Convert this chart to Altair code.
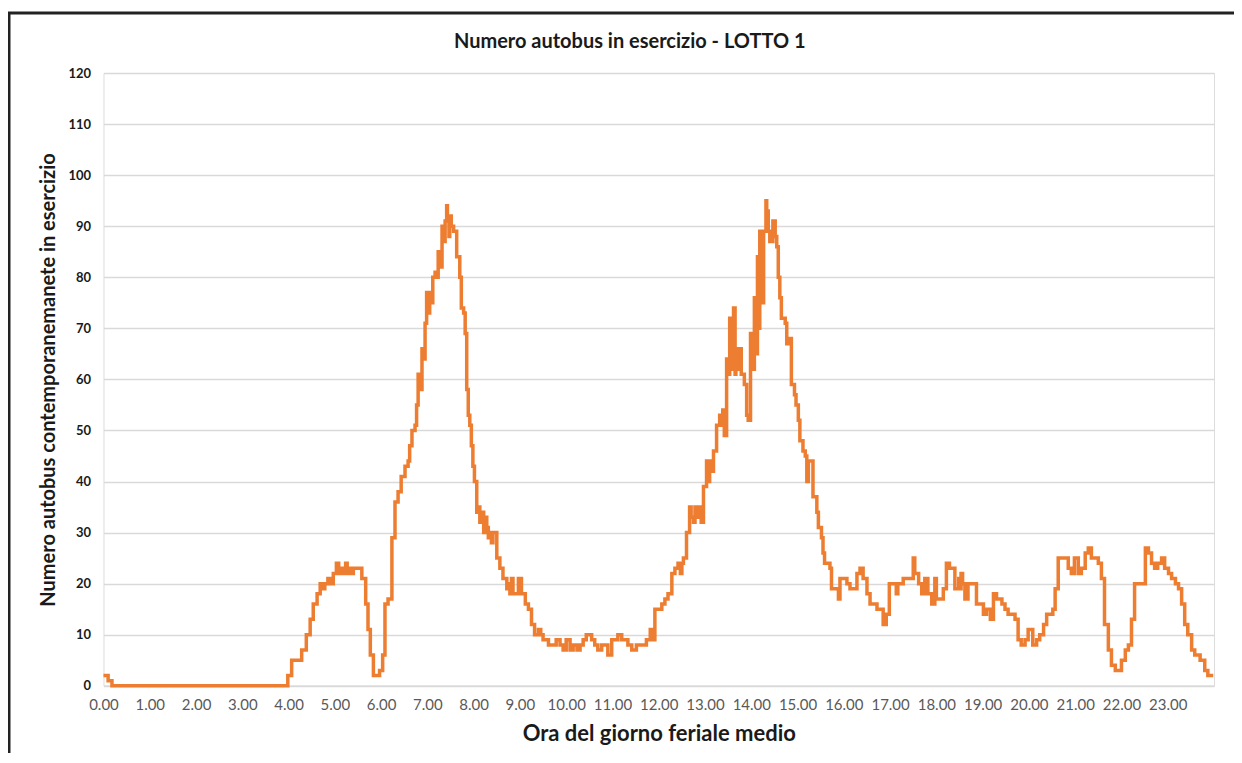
import altair as alt
import pandas as pd

# Step-change points: minute of the day and number of buses in service from that minute on
minutes = [
    0, 6, 11, 239, 244, 257, 263, 268, 272, 277, 281, 285, 287, 291, 294, 298,
    302, 305, 308, 311, 314, 316, 320, 322, 324, 335, 340, 343, 346, 350, 358, 362,
    365, 369, 374, 378, 382, 386, 391, 395, 397, 400, 404, 406, 408, 410, 413, 415,
    417, 419, 421, 423, 425, 427, 430, 432, 434, 436, 439, 441, 443, 445, 446, 448,
    449, 451, 454, 458, 462, 464, 467, 469, 471, 473, 475, 477, 479, 481, 484, 486,
    488, 490, 493, 495, 497, 499, 501, 503, 505, 510, 514, 518, 523, 525, 527, 529,
    531, 538, 542, 547, 551, 555, 559, 564, 567, 570, 577, 587, 592, 596, 600, 605,
    609, 614, 618, 622, 626, 633, 637, 641, 646, 654, 659, 667, 672, 680, 685, 691,
    704, 709, 711, 715, 724, 728, 732, 737, 741, 745, 748, 750, 752, 756, 760, 762,
    765, 767, 771, 773, 775, 778, 782, 784, 786, 788, 791, 795, 799, 801, 803, 805,
    808, 810, 812, 814, 817, 819, 820, 822, 825, 827, 831, 834, 836, 839, 841, 844,
    846, 848, 850, 851, 853, 856, 859, 860, 862, 864, 868, 871, 873, 875, 877, 879,
    884, 886, 888, 892, 896, 898, 901, 903, 907, 910, 912, 914, 920, 925, 927, 931,
    933, 935, 942, 944, 953, 955, 964, 968, 977, 981, 985, 990, 994, 1003, 1011, 1015,
    1019, 1028, 1030, 1037, 1050, 1052, 1057, 1061, 1065, 1069, 1074, 1078, 1080, 1089, 1093, 1097,
    1104, 1109, 1111, 1112, 1114, 1117, 1121, 1132, 1141, 1145, 1150, 1154, 1158, 1165, 1169, 1173,
    1182, 1186, 1190, 1195, 1199, 1205, 1210, 1214, 1219, 1223, 1231, 1234, 1238, 1251, 1255, 1259,
    1264, 1268, 1273, 1277, 1281, 1290, 1294, 1298, 1303, 1307, 1312, 1320, 1325, 1329, 1333, 1337,
    1351, 1355, 1359, 1363, 1367, 1372, 1376, 1381, 1385, 1390, 1394, 1398, 1402, 1406, 1411, 1415,
    1422, 1428, 1432, 1439,
]
buses = [
    2, 1, 0, 2, 5, 7, 10, 13, 16, 18, 20, 19, 20, 21, 20, 22,
    24, 22, 23, 22, 24, 22, 23, 22, 23, 21, 16, 11, 6, 2, 3, 6,
    16, 17, 29, 36, 38, 41, 43, 44, 47, 50, 51, 55, 61, 58, 66, 64,
    71, 77, 73, 77, 75, 80, 81, 80, 85, 82, 90, 87, 91, 94, 91, 88,
    92, 90, 89, 84, 80, 74, 73, 69, 58, 53, 51, 47, 43, 40, 34, 35,
    32, 34, 30, 33, 31, 29, 30, 28, 30, 25, 23, 21, 19, 20, 18, 21,
    18, 21, 18, 16, 15, 12, 10, 11, 10, 9, 8, 9, 8, 7, 9, 7,
    8, 7, 8, 9, 10, 9, 8, 7, 8, 6, 9, 10, 9, 8, 7, 8,
    9, 11, 9, 15, 16, 17, 18, 22, 23, 24, 22, 24, 25, 30, 35, 33,
    32, 35, 33, 35, 32, 39, 44, 40, 44, 42, 46, 51, 53, 51, 54, 49,
    64, 61, 72, 62, 74, 61, 66, 62, 66, 61, 59, 53, 52, 69, 62, 76,
    65, 84, 70, 89, 75, 89, 95, 93, 89, 87, 91, 88, 86, 80, 76, 72,
    71, 67, 68, 59, 57, 55, 52, 48, 46, 45, 40, 44, 37, 34, 31, 29,
    26, 24, 23, 19, 17, 21, 20, 19, 22, 23, 21, 18, 16, 15, 12, 14,
    20, 18, 20, 21, 25, 22, 20, 18, 21, 18, 16, 21, 17, 19, 24, 23,
    19, 21, 19, 22, 20, 17, 20, 16, 14, 15, 13, 18, 17, 16, 15, 14,
    13, 9, 8, 9, 11, 8, 9, 10, 12, 14, 15, 19, 25, 23, 22, 25,
    22, 23, 26, 27, 25, 24, 21, 12, 7, 4, 3, 5, 7, 8, 13, 20,
    27, 26, 24, 23, 24, 25, 23, 22, 21, 20, 19, 16, 12, 10, 7, 6,
    5, 3, 2, 2,
]
hour_ticks = list(range(0, 24))
y_ticks = list(range(0, 121, 10))

title_text = "Numero autobus in esercizio - LOTTO 1"
x_title = "Ora del giorno feriale medio"
y_title = "Numero autobus contemporanemanete in esercizio"

df = pd.DataFrame({"ora": [m / 60 for m in minutes], "bus": buses})

FONT = "Lato"
PLOT_W = 1110.7
PLOT_H = 612.8

line = alt.Chart(df).mark_line(
    interpolate="step-after", color="#ED7D31", strokeWidth=3.5, strokeJoin="miter"
).encode(
    x=alt.X(
        "ora:Q",
        scale=alt.Scale(domain=[0, 24], nice=False, zero=False),
        axis=alt.Axis(
            values=hour_ticks,
            labelExpr="format(datum.value, '.2f')",
            title=x_title,
            grid=False,
            ticks=False,
            domain=True,
            domainColor="#d9d9d9",
            domainWidth=1.5,
            labelColor="#595959",
            labelFont=FONT,
            labelFontSize=15,
            labelPadding=12,
            labelFlush=False,
            labelOverlap=False,
            titleFont=FONT,
            titleFontSize=22,
            titleFontWeight="bold",
            titleColor="#1a1a1a",
            titlePadding=11,
        ),
    ),
    y=alt.Y(
        "bus:Q",
        scale=alt.Scale(domain=[0, 120], nice=False),
        axis=alt.Axis(
            values=y_ticks,
            title=y_title,
            grid=True,
            gridColor="#d9d9d9",
            gridWidth=1.5,
            domain=False,
            ticks=False,
            labelColor="#1a1a1a",
            labelFont=FONT,
            labelFontSize=13,
            labelFontWeight="bold",
            labelPadding=13,
            titleFont=FONT,
            titleFontSize=20,
            titleFontWeight="bold",
            titleColor="#1a1a1a",
            titlePadding=9,
        ),
    ),
)

frame = alt.Chart(pd.DataFrame({"k": [0]})).mark_rect(
    fillOpacity=0, stroke="#222222", strokeWidth=3
).encode(
    x=alt.value(-94.5), x2=alt.value(1170),
    y=alt.value(-60), y2=alt.value(720),
)

chart = alt.layer(frame, line).properties(
    width=PLOT_W,
    height=PLOT_H,
    title=alt.TitleParams(
        title_text, font=FONT, fontSize=20, fontWeight="bold", color="#1a1a1a",
        anchor="middle", dx=-29, offset=-40,
    ),
    padding={"left": 95.5, "top": 65, "right": 20, "bottom": 67},
    autosize="none",
).configure_view(strokeWidth=0).configure(background="white")

chart.save("out.html", embed_options={"renderer": "svg", "actions": False})
